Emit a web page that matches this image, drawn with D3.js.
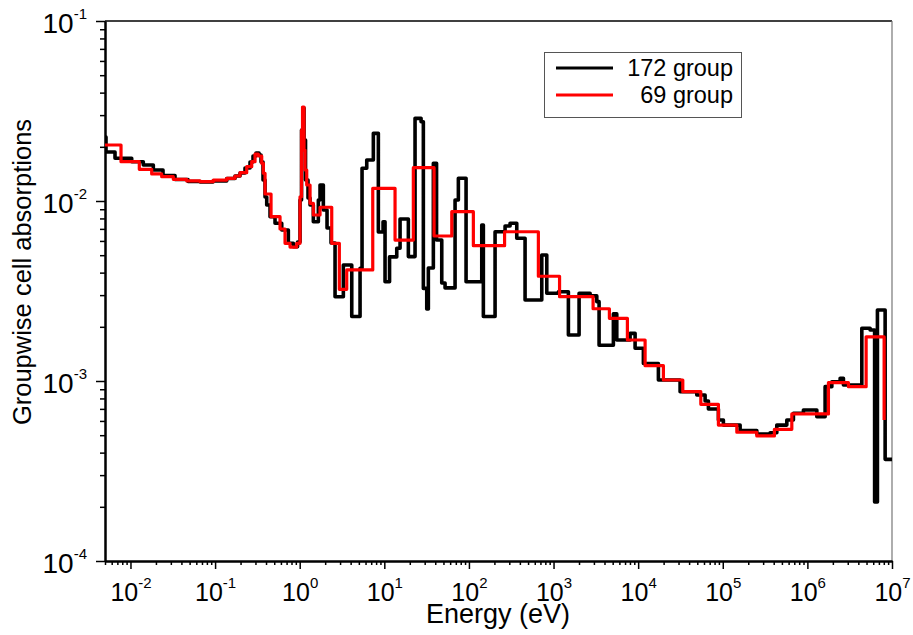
<!DOCTYPE html>
<html><head><meta charset="utf-8">
<script src="https://cdn.jsdelivr.net/npm/d3@7"></script>
<style>
body{margin:0;background:#fff;}
svg{display:block;}
text{font-family:"Liberation Sans",Arial,Helvetica,sans-serif;fill:#000;}
</style>
</head><body>
<svg id="chart" width="913" height="635"></svg>
<script>
// ---------- data ----------
const xDomain = [0.005, 1e7];
const yDomain = [1e-4, 1e-1];
const xTickExps = [-2, -1, 0, 1, 2, 3, 4, 5, 6, 7];
const yTickExps = [-4, -3, -2, -1];
const seriesNames = ["172 group", "69 group"];
const xTitle = "Energy (eV)";
const yTitle = "Groupwise cell absorptions";

// 172 group (black) : step start energy (eV) and value
const energy172 = [0.005, 0.005138, 0.006566, 0.01034, 0.01418, 0.01862, 0.02424, 0.0336, 0.04787, 0.06636,
  0.09454, 0.1372, 0.172, 0.1971, 0.2258, 0.2588, 0.2808, 0.3047, 0.3306, 0.3491,
  0.3686, 0.3894, 0.4077, 0.4461, 0.511, 0.6134, 0.734, 0.8411, 0.9428, 1.009,
  1.051, 1.089, 1.125, 1.172, 1.254, 1.325, 1.449, 1.661, 1.739, 1.903,
  2.104, 2.346, 2.617, 3.28, 4.122, 5.168, 5.456, 6.2, 7.42, 8.503,
  9.663, 10.2, 11.53, 14.03, 15.35, 19.24, 23.08, 27.19, 28.93, 31.74,
  33.15, 37.98, 41.44, 47.74, 52.23, 68.58, 75.02, 92.5, 141.8, 148.1,
  203.7, 267.4, 306.4, 367.6, 460.8, 726, 831.8, 1141, 1498, 2004,
  2704, 3245, 3453, 5096, 5590, 8030, 9201, 11530, 17350, 31310,
  49330, 61830, 67650, 88800, 101700, 160300, 252500, 362600, 435200, 571400,
  683800, 897700, 1293000, 1620000, 1945000, 2438000, 2667000, 4399000, 5515000, 6232000,
  6726000, 8296000, 1e7];
const absorb172 = [0.02268, 0.01872, 0.01727, 0.01653, 0.01585, 0.01487, 0.01386, 0.01317, 0.01284, 0.01276,
  0.01292, 0.01334, 0.01377, 0.01431, 0.01526, 0.01647, 0.01778, 0.01848, 0.01801, 0.01647,
  0.01307, 0.01052, 0.0095, 0.00818, 0.00752, 0.0069, 0.00582, 0.00557, 0.00592, 0.01013,
  0.02479, 0.03286, 0.02183, 0.01307, 0.01039, 0.0095, 0.00767, 0.01013, 0.01227, 0.00891,
  0.00708, 0.00584, 0.00294, 0.00441, 0.00228, 0.00423, 0.0152, 0.01689, 0.02376, 0.00673,
  0.00767, 0.00356, 0.00489, 0.00546, 0.00794, 0.00491, 0.02879, 0.02757, 0.00327, 0.00251,
  0.00424, 0.0162, 0.00607, 0.0035, 0.00329, 0.01013, 0.01337, 0.00356, 0.00736, 0.00228,
  0.00675, 0.00726, 0.00752, 0.00621, 0.00282, 0.00501, 0.00307, 0.00313, 0.0018, 0.00307,
  0.00297, 0.00276, 0.00158, 0.00236, 0.00169, 0.00184, 0.00152, 0.00125, 0.001013, 0.000872,
  0.000836, 0.000774, 0.000699, 0.000607, 0.000569, 0.000531, 0.000508, 0.000516, 0.000569, 0.000607,
  0.000662, 0.00069, 0.000633, 0.00093, 0.000991, 0.001035, 0.00095, 0.001963, 0.00192, 0.000213,
  0.00248, 0.000367, 0.000367];

// 69 group (red)
const energy69 = [0.005, 0.00773, 0.01272, 0.01782, 0.0234, 0.0321, 0.0462, 0.0664, 0.0953, 0.1372,
  0.172, 0.197, 0.2365, 0.271, 0.2965, 0.324, 0.3557, 0.3717, 0.3893, 0.4584,
  0.5856, 0.671, 0.7688, 0.9226, 1.009, 1.051, 1.08, 1.125, 1.156, 1.211,
  1.325, 1.449, 1.739, 2.391, 2.941, 3.597, 7.3, 13.39, 22.03, 38.71,
  62.7, 112.8, 263.8, 661.7, 1178, 2933, 4571, 7461, 12080, 19880,
  33700, 55010, 88800, 146600, 252500, 407600, 654600, 1773000, 3056000, 4946000,
  8073000];
const absorb69 = [0.02047, 0.01653, 0.015, 0.01413, 0.01365, 0.0132, 0.01292, 0.0128, 0.01307, 0.01337,
  0.01377, 0.01437, 0.01551, 0.01653, 0.01824, 0.01778, 0.0162, 0.01426, 0.01094, 0.00818,
  0.00699, 0.00582, 0.00555, 0.00582, 0.01056, 0.02479, 0.03329, 0.01919, 0.01487, 0.01227,
  0.00971, 0.00836, 0.00923, 0.00582, 0.00323, 0.00414, 0.01176, 0.00607, 0.01531, 0.00639,
  0.00872, 0.00565, 0.00675, 0.00382, 0.00294, 0.00252, 0.00223, 0.00169, 0.001216, 0.001013,
  0.000872, 0.000742, 0.000569, 0.000519, 0.000495, 0.000539, 0.000656, 0.000979, 0.00093, 0.00176,
  0.000607];

// ---------- layout ----------
const svg = d3.select("#chart");
const L = 105, R = 892, T = 21, B = 561;
const x = d3.scaleLog().domain(xDomain).range([L, R]);
const y = d3.scaleLog().domain(yDomain).range([B, T]);

svg.append("rect").attr("width", 913).attr("height", 635).attr("fill", "#fff");

svg.append("defs").append("clipPath").attr("id", "clip")
  .append("rect").attr("x", L).attr("y", T).attr("width", R - L).attr("height", B - T);

// frame (top and right)
svg.append("line").attr("x1", L).attr("x2", R).attr("y1", T).attr("y2", T)
  .attr("stroke", "#000").attr("stroke-width", 1.5);
svg.append("line").attr("x1", R).attr("x2", R).attr("y1", T).attr("y2", B)
  .attr("stroke", "#777").attr("stroke-width", 1.2);

// minor ticks
const minorX = [], minorY = [];
for (let e = -3; e < 7; e++) for (let m = 2; m <= 9; m++) {
  const v = m * Math.pow(10, e);
  if (v >= xDomain[0] * 0.999 && v <= xDomain[1]) minorX.push(v);
}
for (let e = -4; e < -1; e++) for (let m = 2; m <= 9; m++) minorY.push(m * Math.pow(10, e));

function supLabel(sel, e, supSize, supDy) {
  sel.text(null);
  sel.append("tspan").text("10");
  sel.append("tspan").attr("dy", supDy).attr("font-size", supSize).text(String(e));
}

// x axis
const gxMinor = svg.append("g").attr("transform", `translate(0,${B})`)
  .call(d3.axisBottom(x).tickValues(minorX).tickSize(4).tickSizeOuter(0).tickFormat(""));
const gx = svg.append("g").attr("transform", `translate(0,${B})`)
  .call(d3.axisBottom(x).tickValues(xTickExps.map(e => Math.pow(10, e))).tickSize(8).tickSizeOuter(0).tickPadding(14));
gx.selectAll(".tick text").attr("font-size", 25).attr("dy", "0.71em")
  .each(function (d) { supLabel(d3.select(this), Math.round(Math.log10(d)), 15, -13); });

// y axis
const gyMinor = svg.append("g").attr("transform", `translate(${L},0)`)
  .call(d3.axisLeft(y).tickValues(minorY).tickSize(5).tickSizeOuter(0).tickFormat(""));
const gy = svg.append("g").attr("transform", `translate(${L},0)`)
  .call(d3.axisLeft(y).tickValues(yTickExps.map(e => Math.pow(10, e))).tickSize(9).tickSizeOuter(0).tickPadding(9));
gy.selectAll(".tick text").attr("font-size", 28).attr("dy", "0.4em")
  .each(function (d) { supLabel(d3.select(this), Math.round(Math.log10(d)), 15, -14); });

[gx, gy, gxMinor, gyMinor].forEach(g => {
  g.select(".domain").attr("stroke", "#000").attr("stroke-width", 2);
  g.selectAll(".tick line").attr("stroke", "#000").attr("stroke-width", 1.5);
  g.selectAll("text").attr("font-family", '"Liberation Sans", Arial, sans-serif').attr("fill", "#000");
});

// axis titles
svg.append("text").attr("x", 498).attr("y", 623).attr("text-anchor", "middle")
  .attr("font-size", 27).text(xTitle);
svg.append("text").attr("transform", "translate(31,272) rotate(-90)").attr("text-anchor", "middle")
  .attr("font-size", 25.5).text(yTitle);

// data lines
const line = d3.line().x(d => x(d[0])).y(d => y(d[1])).curve(d3.curveStepAfter);
const data172 = energy172.map((e, i) => [e, absorb172[i]]);
const data69 = energy69.map((e, i) => [e, absorb69[i]]);
const plot = svg.append("g").attr("clip-path", "url(#clip)");
plot.append("path").datum(data172).attr("d", line).attr("fill", "none")
  .attr("stroke", "#000").attr("stroke-width", 3.6).attr("stroke-linejoin", "round");
plot.append("path").datum(data69).attr("d", line).attr("fill", "none")
  .attr("stroke", "#ff0000").attr("stroke-width", 3.2).attr("stroke-linejoin", "round");

// legend
const lg = svg.append("g");
lg.append("rect").attr("x", 544.5).attr("y", 52.5).attr("width", 197).attr("height", 65)
  .attr("fill", "#fff").attr("stroke", "#555").attr("stroke-width", 1);
const legColors = ["#000", "#ff0000"];
seriesNames.forEach((n, i) => {
  const yy = 68 + i * 27;
  lg.append("line").attr("x1", 556).attr("x2", 613).attr("y1", yy).attr("y2", yy)
    .attr("stroke", legColors[i]).attr("stroke-width", 3);
  lg.append("text").attr("x", 733).attr("y", yy + 8).attr("text-anchor", "end")
    .attr("font-size", 23.5).text(n);
});
</script>
</body></html>
